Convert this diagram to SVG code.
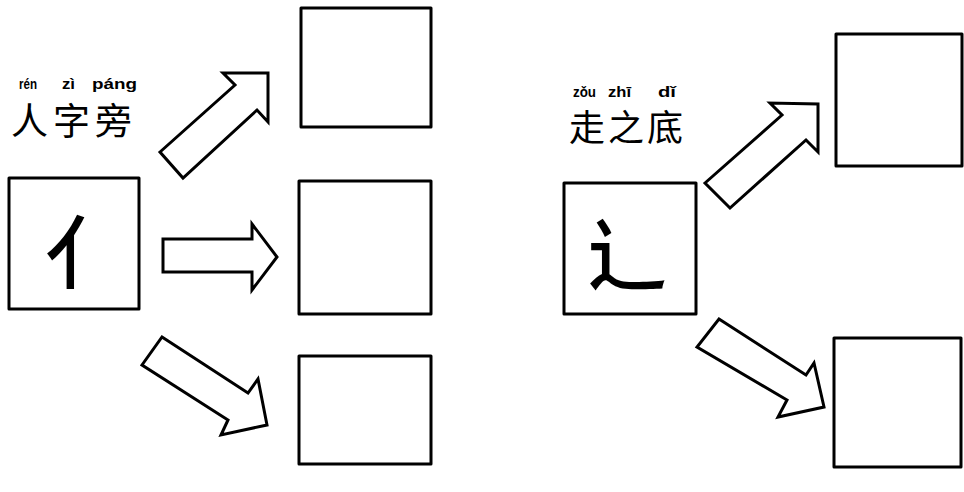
<svg xmlns="http://www.w3.org/2000/svg" width="964" height="492" viewBox="0 0 964 492">
<style>
.box{fill:#fff;stroke:#000;stroke-width:3;stroke-linejoin:round}
.arr{fill:#fff;stroke:#000;stroke-width:3;stroke-linejoin:miter}
.py{font-family:"Liberation Sans",Arial,sans-serif;font-weight:bold;font-size:15px;fill:#000}
.cn{font-family:"Noto Sans CJK SC","Noto Sans CJK TC",sans-serif;fill:#000}
.rad{font-family:"Noto Sans CJK SC","Noto Sans CJK TC",sans-serif;font-weight:500;font-size:80px;fill:#000;text-anchor:middle}
</style>
<rect width="964" height="492" fill="#fff"/>
<g id="label-left">
<text class="py" x="19" y="89" textLength="18" lengthAdjust="spacingAndGlyphs">rén</text>
<text class="py" x="62" y="89" textLength="13" lengthAdjust="spacingAndGlyphs">zì</text>
<text class="py" x="92" y="89" textLength="45" lengthAdjust="spacingAndGlyphs">páng</text>
<text class="cn" x="11" y="135" font-size="37" letter-spacing="5">人字旁</text>
</g>
<g id="label-right">
<text class="py" x="573" y="97" textLength="23" lengthAdjust="spacingAndGlyphs">zǒu</text>
<text class="py" x="608" y="97" textLength="23" lengthAdjust="spacingAndGlyphs">zhī</text>
<text class="py" x="658" y="97" textLength="18" lengthAdjust="spacingAndGlyphs">dǐ</text>
<text class="cn" x="569" y="141" font-size="36" letter-spacing="3">走之底</text>
</g>
<g id="node-ren">
<rect class="box" x="9" y="178" width="130" height="131"/>
<text class="rad" x="85" y="282">亻</text>
</g>
<g id="node-t1"><rect class="box" x="301" y="8" width="130" height="119"/></g>
<g id="node-t2"><rect class="box" x="299" y="181" width="132" height="133"/></g>
<g id="node-t3"><rect class="box" x="299" y="356" width="132" height="108"/></g>
<g id="node-zou">
<rect class="box" x="564" y="183" width="132" height="131"/>
<text class="rad" x="627" y="284">辶</text>
</g>
<g id="node-r1"><rect class="box" x="836" y="34" width="126" height="132"/></g>
<g id="node-r2"><rect class="box" x="834" y="338" width="127" height="129"/></g>
<g id="connectors">
<polygon class="arr" points="160,152 235,85 223,73 268,73 268,122 257,110 183,178"/>
<polygon class="arr" points="163,239 252,239 252,224 277,257 252,290 252,272 163,272"/>
<polygon class="arr" points="162,337 248,393 258,379 267,425 221,435 228,420 142,365"/>
<polygon class="arr" points="705,183 782,115 770,103 818,104 818,152 806,140 730,208"/>
<polygon class="arr" points="719,319 806,375 814,363 824,407 778,417 787,400 697,347"/>
</g>
</svg>
